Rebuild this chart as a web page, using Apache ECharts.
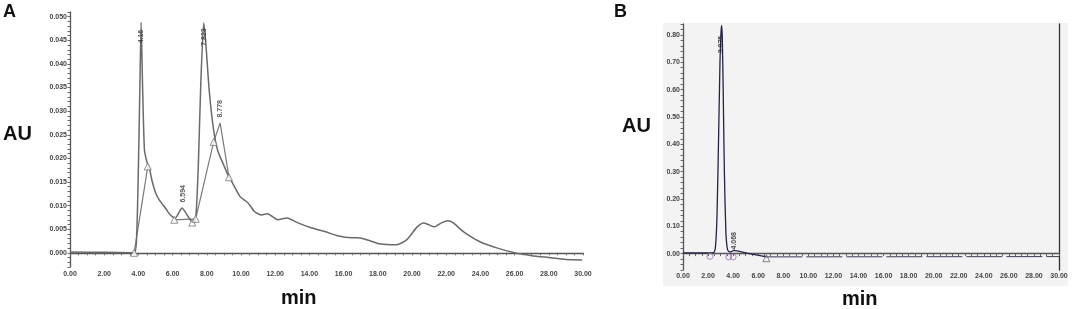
<!DOCTYPE html>
<html><head><meta charset="utf-8">
<script src="https://cdn.jsdelivr.net/npm/echarts@6/dist/echarts.min.js"></script>
<style>html,body{margin:0;padding:0;background:#fff}#c{width:1072px;height:309px}</style>
</head><body><div id="c"></div>
<script>
// ---- Panel A data (time in min, absorbance in AU) ----
const timeA = [0, 2.0, 3.75, 3.9, 4.0, 4.1, 4.16, 4.24, 4.35, 4.5, 4.65, 4.8, 5.0, 5.2, 5.4, 5.6, 5.8, 6.0, 6.15, 6.35, 6.55, 6.8, 7.05, 7.2, 7.35, 7.5, 7.65, 7.823, 7.95, 8.15, 8.4, 8.65, 9.0, 9.3, 9.5, 9.95, 10.4, 10.8, 11.2, 11.55, 12.15, 12.7, 13.3, 14.1, 14.9, 15.65, 16.45, 16.85, 17.5, 18.1, 19.1, 19.7, 20.3, 20.65, 20.95, 21.3, 21.75, 22.1, 22.4, 23.0, 24.0, 25.0, 26.0, 27.0, 28.0, 29.0, 29.95];
const auA = [0.0002, 0.0001, 0, 0.004, 0.018, 0.038, 0.0488, 0.036, 0.022, 0.0192, 0.0178, 0.0152, 0.0128, 0.0113, 0.0103, 0.0094, 0.0083, 0.0076, 0.0073, 0.0084, 0.0095, 0.0083, 0.0069, 0.0064, 0.0072, 0.018, 0.036, 0.0487, 0.044, 0.034, 0.026, 0.0215, 0.0185, 0.016, 0.0148, 0.0119, 0.0106, 0.0087, 0.008, 0.0083, 0.007, 0.0074, 0.0064, 0.0053, 0.0045, 0.0036, 0.0032, 0.0032, 0.0026, 0.0019, 0.0017, 0.0028, 0.0055, 0.0063, 0.006, 0.0055, 0.0064, 0.0068, 0.0064, 0.0045, 0.0023, 0.001, 0.0, -0.0006, -0.001, -0.0014, -0.0015];
const fitTimeA = [3.75, 4.55, null, 6.1, 7.35, null, 7.35, 8.4, 8.778, 9.3];
const fitAuA = [0, 0.0183, null, 0.0070, 0.0072, null, 0.0072, 0.0235, 0.0275, 0.016];
const triTimeA = [3.75, 4.55, 6.1, 7.15, 7.35, 8.4, 9.3];
const triAuA = [0, 0.0183, 0.007, 0.0064, 0.0072, 0.0235, 0.016];
const peakTimeA = [4.16, 7.823, 6.594, 8.778];
const peakAuA = [0.0488, 0.0487, 0.0095, 0.0275];
const peakTextA = ['4.16', '7.823', '6.594', '8.778'];

// ---- Panel B data ----
const timeB = [0, 2.0, 2.45, 2.6, 2.72, 2.85, 2.95, 3.02, 3.075, 3.13, 3.2, 3.3, 3.42, 3.55, 3.7, 3.9, 4.068, 4.5, 5.5, 6.65];
const auB = [0.003, 0.003, 0.004, 0.03, 0.15, 0.45, 0.7, 0.8, 0.835, 0.8, 0.62, 0.3, 0.08, 0.015, 0.006, 0.008, 0.012, 0.008, -0.002, -0.012];
const tailTimeB = [6.65, 30];
const tailAuB = [-0.012, -0.011];
const circTimeB = [2.15, 3.65, 4.0];
const circAuB = [-0.01, -0.012, -0.012];
const triTimeB = [6.65];
const triAuB = [-0.017];
const peakTimeB = [3.075, 4.068];
const peakAuB = [0.835, 0.012];
const peakTextB = ['3.075', '4.068'];

// ---- ticks ----
const xTickStep = 0.5, xLabelStep = 2;
const yTickA = 0.001, yLabelA = 0.005;
const yTickB = 0.02, yLabelB = 0.1;

const zip = (a, b) => a.map((v, i) => (v === null ? [null, null] : [v, b[i]]));
const isMult = (v, s) => Math.abs(v / s - Math.round(v / s)) < 1e-6;

function peakLabels(ts, vs, txt, top, off) {
  return ts.map((t, i) => {
    const tall = vs[i] > top * 0.9;
    return { name: txt[i], value: [t, vs[i] + (tall ? -off : off)] };
  });
}

const tickFont = { fontSize: 7, fontWeight: 'bold', color: '#444', fontFamily: 'Liberation Sans, Arial' };
const axLine = { show: true, lineStyle: { color: '#555', width: 1.3 } };

const chart = echarts.init(document.getElementById('c'), null, { renderer: 'canvas' });
chart.setOption({
  animation: false,
  backgroundColor: '#fff',
  graphic: [
    { type: 'rect', z: -10, shape: { x: 663, y: 23, width: 405, height: 263 }, style: { fill: '#f3f3f3' } },
    { type: 'text', left: 3, top: 3, style: { text: 'A', font: 'bold 18px Liberation Sans, Arial', fill: '#111' } },
    { type: 'text', left: 3, top: 124, style: { text: 'AU', font: 'bold 20px Liberation Sans, Arial', fill: '#111' } },
    { type: 'text', left: 281, top: 288, style: { text: 'min', font: 'bold 20px Liberation Sans, Arial', fill: '#111' } },
    { type: 'text', left: 614, top: 3, style: { text: 'B', font: 'bold 18px Liberation Sans, Arial', fill: '#111' } },
    { type: 'text', left: 622, top: 116, style: { text: 'AU', font: 'bold 20px Liberation Sans, Arial', fill: '#111' } },
    { type: 'text', left: 842, top: 289, style: { text: 'min', font: 'bold 20px Liberation Sans, Arial', fill: '#111' } }
  ],
  grid: [
    { left: 70, top: 12, width: 513, height: 255 },
    { left: 683, top: 24, width: 376, height: 246 }
  ],
  xAxis: [
    { gridIndex: 0, type: 'value', min: 0, max: 30, interval: xTickStep, axisLine: axLine,
      axisTick: { show: true, length: 2.5, lineStyle: { color: '#666' } }, splitLine: { show: false },
      axisLabel: Object.assign({ margin: 4, formatter: v => isMult(v, xLabelStep) ? v.toFixed(2) : '' }, tickFont) },
    { gridIndex: 1, type: 'value', min: 0, max: 30, interval: xTickStep, axisLine: axLine,
      axisTick: { show: true, length: 2.5, lineStyle: { color: '#666' } }, splitLine: { show: false },
      axisLabel: Object.assign({ margin: 3, formatter: v => isMult(v, xLabelStep) ? v.toFixed(2) : '' }, tickFont) }
  ],
  yAxis: [
    { gridIndex: 0, type: 'value', min: -0.003, max: 0.051, interval: yTickA, axisLine: axLine,
      axisTick: { show: true, length: 2.5, lineStyle: { color: '#666' } }, splitLine: { show: false },
      axisLabel: Object.assign({ margin: 3, formatter: v => (v > -1e-9 && isMult(v, yLabelA)) ? v.toFixed(3) : '' }, tickFont) },
    { gridIndex: 1, type: 'value', min: -0.06, max: 0.84, interval: yTickB, axisLine: axLine,
      axisTick: { show: true, length: 2.5, lineStyle: { color: '#666' } }, splitLine: { show: false },
      axisLabel: Object.assign({ margin: 3, formatter: v => (v > -1e-9 && isMult(v, yLabelB)) ? v.toFixed(2) : '' }, tickFont) },
    { gridIndex: 1, type: 'value', position: 'right', min: -0.06, max: 0.84,
      axisLine: { show: true, lineStyle: { color: '#333', width: 1.3 } }, axisTick: { show: false },
      axisLabel: { show: false }, splitLine: { show: false } }
  ],
  series: [
    { type: 'line', xAxisIndex: 0, yAxisIndex: 0, data: zip(timeA, auA), showSymbol: false, smooth: 0.2,
      lineStyle: { color: '#6a6a6a', width: 1.5 }, z: 3 },
    { type: 'line', xAxisIndex: 0, yAxisIndex: 0, data: zip(fitTimeA, fitAuA), showSymbol: false, connectNulls: false,
      lineStyle: { color: '#7a7a7a', width: 1.2 }, z: 2 },
    { type: 'scatter', xAxisIndex: 0, yAxisIndex: 0, data: zip(triTimeA, triAuA), symbol: 'triangle', symbolSize: 7,
      itemStyle: { color: '#fff', borderColor: '#777', borderWidth: 1 }, z: 4 },
    { type: 'scatter', xAxisIndex: 0, yAxisIndex: 0, symbolSize: 0, z: 5,
      data: peakLabels(peakTimeA, peakAuA, peakTextA, 0.051, 0.003),
      label: { show: true, position: 'inside', rotate: 90, formatter: p => p.name, fontSize: 7, fontWeight: 'bold', color: '#333', fontFamily: 'Liberation Sans, Arial' } },

    { type: 'line', xAxisIndex: 1, yAxisIndex: 1, data: zip(timeB, auB), showSymbol: false, smooth: 0.2,
      lineStyle: { color: '#23234a', width: 1.3 }, z: 3 },
    { type: 'line', xAxisIndex: 1, yAxisIndex: 1, data: zip(tailTimeB, tailAuB), showSymbol: false,
      lineStyle: { color: '#3a3a55', width: 1, type: [36, 4] }, z: 3 },
    { type: 'scatter', xAxisIndex: 1, yAxisIndex: 1, data: zip(circTimeB, circAuB), symbol: 'circle', symbolSize: 6,
      itemStyle: { color: 'rgba(255,255,255,0)', borderColor: '#9a6fb0', borderWidth: 1 }, z: 4 },
    { type: 'scatter', xAxisIndex: 1, yAxisIndex: 1, data: zip(triTimeB, triAuB), symbol: 'triangle', symbolSize: 7,
      itemStyle: { color: 'rgba(255,255,255,0)', borderColor: '#666', borderWidth: 1 }, z: 4 },
    { type: 'scatter', xAxisIndex: 1, yAxisIndex: 1, symbolSize: 0, z: 5,
      data: peakLabels(peakTimeB, peakAuB, peakTextB, 0.84, 0.07).map((d, i) => i === 1 ? { name: d.name, value: [d.value[0], peakAuB[i] + 0.035] } : d),
      label: { show: true, position: 'inside', rotate: 90, formatter: p => p.name, fontSize: 7, fontWeight: 'bold', color: '#222', fontFamily: 'Liberation Sans, Arial' } }
  ]
});
</script></body></html>
